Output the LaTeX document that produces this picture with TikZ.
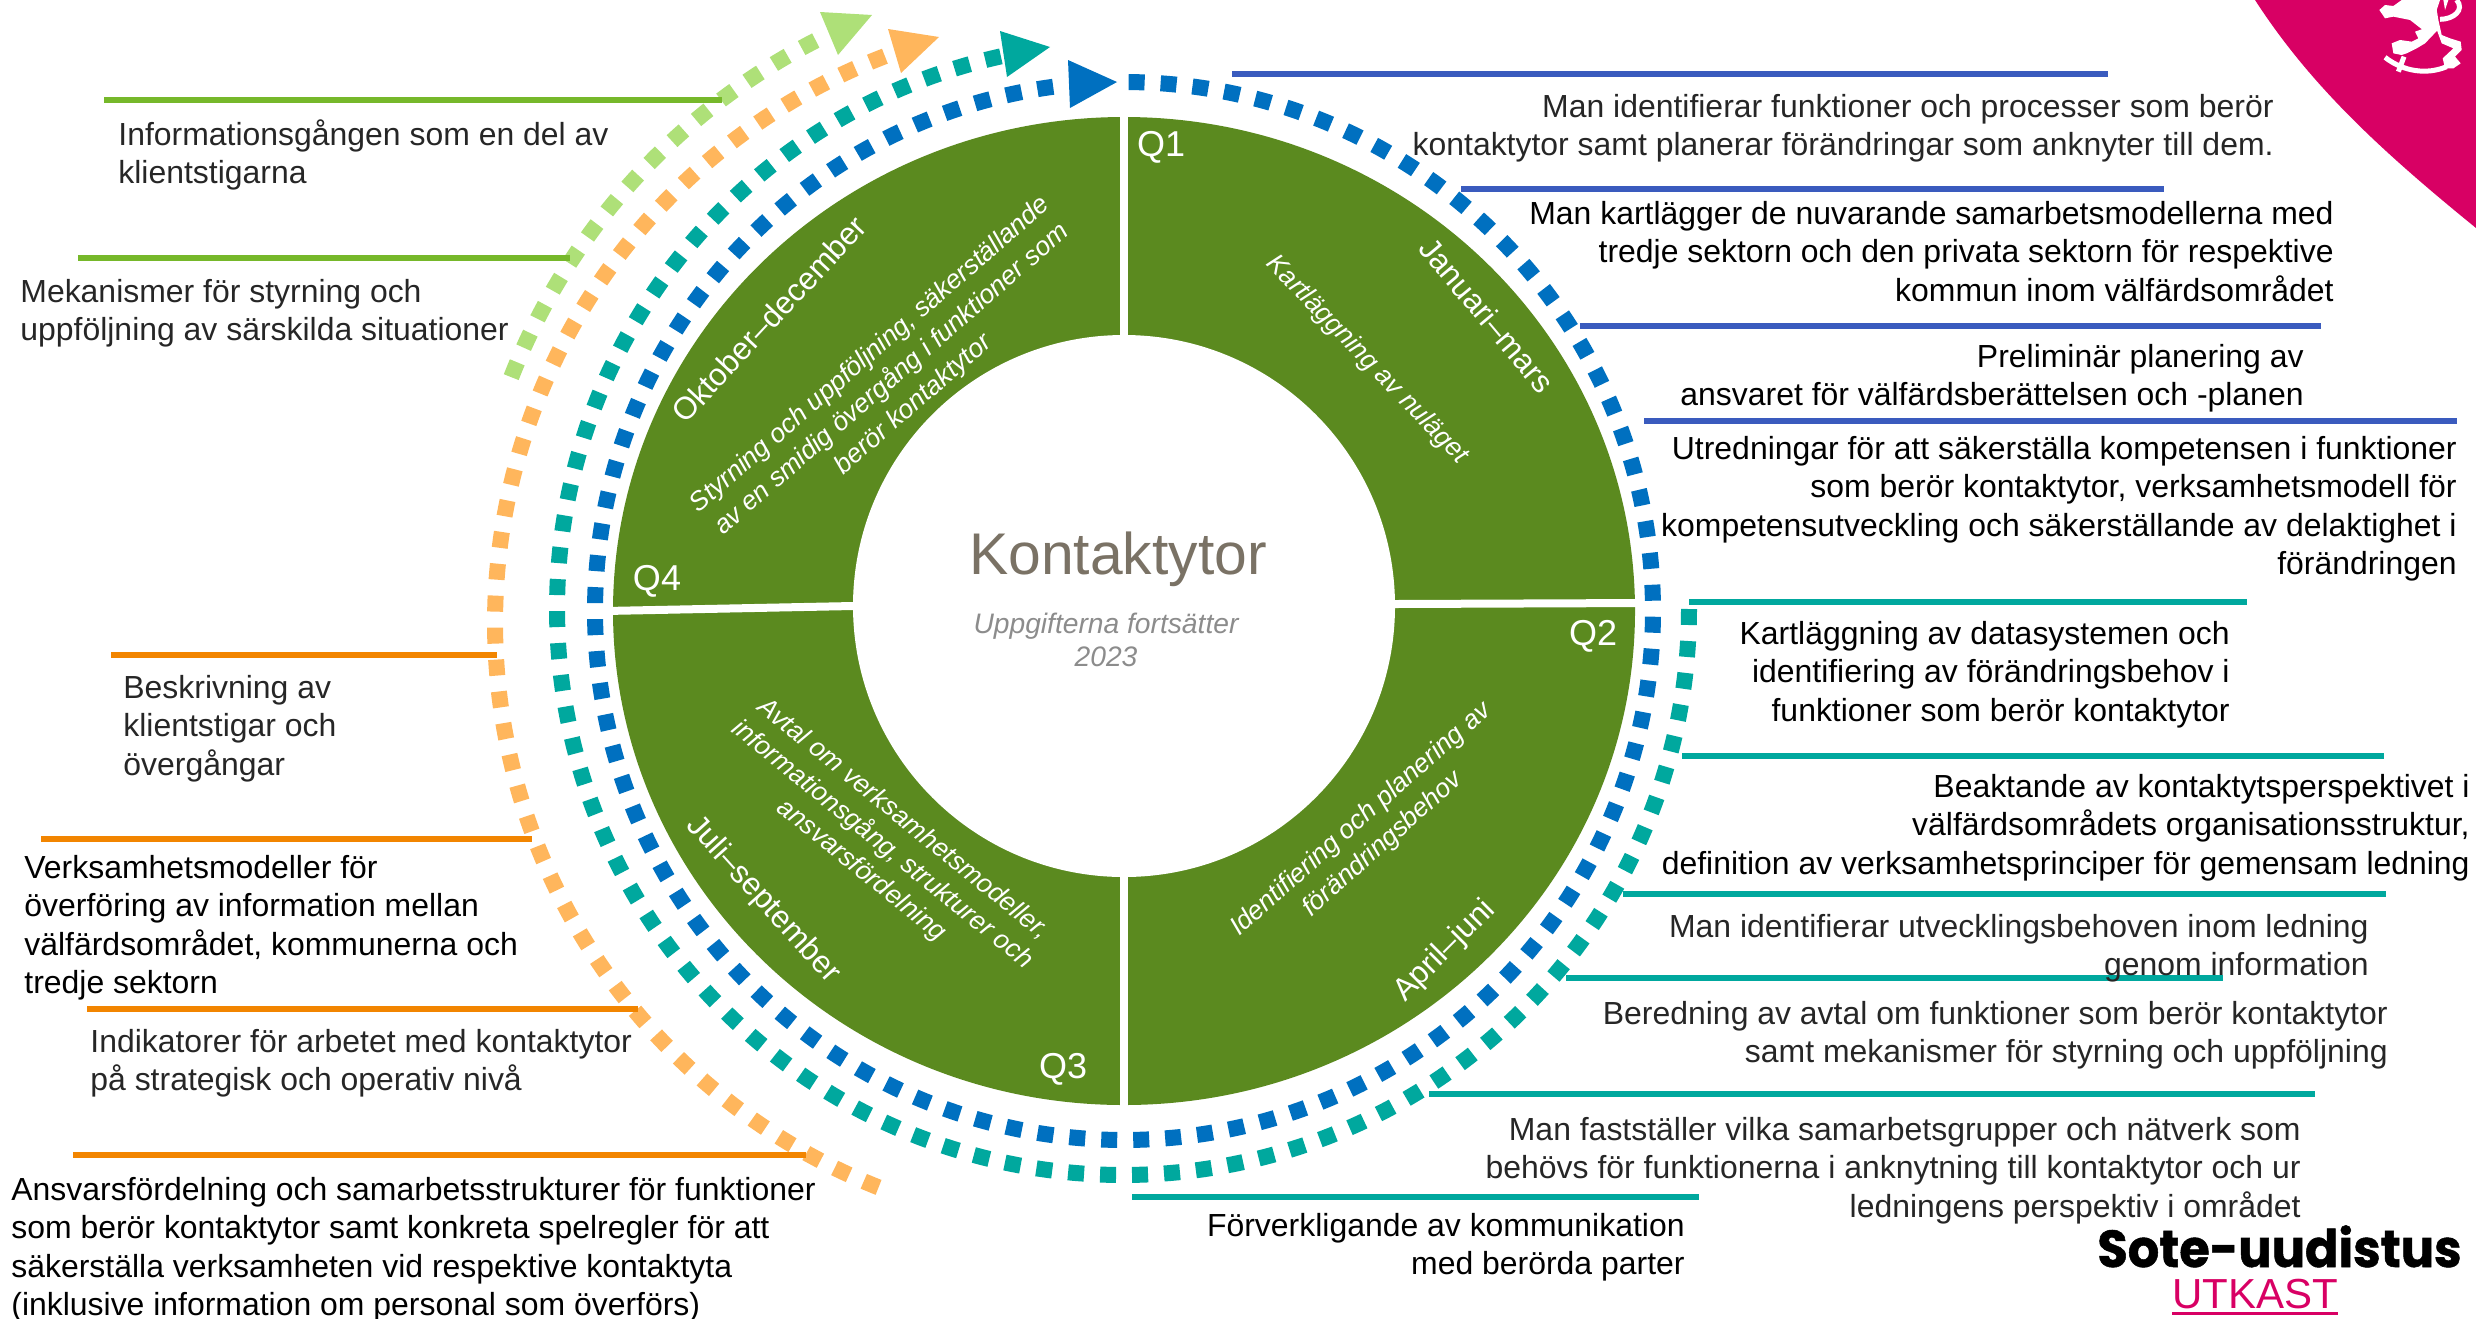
\documentclass[tikz,border=0pt]{standalone}
\usepackage{fontspec}
\setmainfont{Liberation Sans}
\newfontfamily\sotefont[FakeBold=1.0,FakeStretch=0.95]{Poppins}
\definecolor{ringgreen}{HTML}{5B8A1F}
\definecolor{dblue}{HTML}{0070C0}
\definecolor{dteal}{HTML}{00A89E}
\definecolor{dorange}{HTML}{FFB65C}
\definecolor{dlime}{HTML}{AEE078}
\definecolor{lblue}{HTML}{3A5BBE}
\definecolor{lgreen}{HTML}{76B82A}
\definecolor{lorange}{HTML}{F28500}
\definecolor{magent}{HTML}{D80064}
\definecolor{tgrey}{HTML}{262626}
\definecolor{ttitle}{HTML}{7A7265}
\definecolor{tsub}{HTML}{8C8C8C}
\tikzset{
  dotring/.style={line width=8pt,dash pattern=on 8pt off 8pt},
  rulerline/.style={line width=3pt},
  gap/.style={draw=white,line width=4pt},
  bodyfont/.style={font=\fontsize{15.97}{19.25}\selectfont,inner sep=0pt},
  tl/.style={bodyfont,anchor=north west,align=left},
  tr/.style={bodyfont,anchor=north east,align=right},
  qlabel/.style={text=white,font=\fontsize{18}{20}\selectfont,inner sep=0pt,anchor=center},
  seglabel/.style={text=white,font=\fontsize{15.7}{20}\selectfont,inner sep=0pt,anchor=center},
  segitalic/.style={text=white,font=\fontsize{13.2}{16.5}\selectfont\itshape,inner sep=0pt,anchor=center,align=center},
  lionpart/.style={fill=white,draw=none},
  lionline/.style={draw=white,line width=2.5pt}
}
\newcommand{\rulerseg}[5]{%
  \coordinate (#1-a) at (#3,#5);
  \coordinate (#1-b) at (#4,#5);
  \draw[rulerline,#2] (#1-a) -- (#1-b);}
\begin{document}
\begin{tikzpicture}[x=0.5pt,y=-0.5pt]
\useasboundingbox (0,0) rectangle (2476,1318);
% crest
\fill[magent] (2255,0) .. controls (2310,85) and (2380,150) .. (2476,228) -- (2476,0) -- cycle;
\begin{scope}[shift={(2100,0)},x=0.16667pt,y=-0.16667pt]
\fill[lionpart] (838,30)--(855,15)--(880,18)--(905,0)--(1020,0)--(1010,30)--(1015,60)--(1025,105)--(1050,115)--(1082,125)--(1085,150)--(1065,170)--(1082,190)--(1060,205)--(1035,205)--(1028,175)--(1060,145)--(1025,130)--(1005,75)--(975,95)--(930,60)--(880,50)--(855,55)--cycle;
\fill[lionpart] (945,95)--(1015,70)--(1018,85)--(975,130)--(950,145)--(920,160)--(905,165)--(880,160)--(875,130)--(900,120)--(935,125)--(955,115)--cycle;
\fill[lionpart] (1030,0)--(1045,0)--(1035,30)--cycle;
\draw[lionline] (1020,58) .. controls (1060,58) and (1095,30) .. (1070,0);
\draw[lionline] (855,172) .. controls (910,215) and (980,225) .. (1040,200);
\draw[lionline] (912,170) -- (895,215);
\end{scope}
% ring
\fill[ringgreen] (1124,611) circle[x radius=255.5pt,y radius=247pt];
\fill[white] (1124,606) circle[radius=135.5pt];
\draw[gap] (1124,110) -- (1124,1112);
\draw[gap] (605,611) -- (853,606) -- (1395,604) -- (1645,603);
% dotted rings
\draw[dotring,dlime] plot[domain=201.4:244.2,samples=120,variable=\a] ({1108+641*cos(\a)},{611+641*sin(\a)});
\draw[dotring,dorange] plot[domain=111.6:250,samples=300,variable=\a] ({1102+607*cos(\a)},{623+607*sin(\a)});
\draw[dotring,dteal] plot[domain=0:257.8,samples=400,variable=\a] ({1123+566*cos(\a)},{609+566*sin(\a)});
\draw[dotring,dblue] plot[domain=-89.5:264,samples=500,variable=\a] ({1124+529*cos(\a)},{611+529*sin(\a)});
\fill[dlime] (820,12)--(872,15)--(838,55)--cycle;
\fill[dorange] (888,29)--(939,37)--(901,73)--cycle;
\fill[dteal] (1000,31)--(1050,47)--(1007,77)--cycle;
\fill[dblue] (1068,60)--(1117,82)--(1070,108)--cycle;
% rules
\rulerseg{r1}{lblue}{1232}{2108}{74}
\rulerseg{r2}{lblue}{1461}{2164}{189}
\rulerseg{r3}{lblue}{1580}{2321}{326}
\rulerseg{r4}{lblue}{1644}{2457}{421}
\rulerseg{r5}{dteal}{1689}{2247}{602}
\rulerseg{r6}{dteal}{1682}{2384}{756}
\rulerseg{r7}{dteal}{1623}{2386}{894}
\rulerseg{r8}{dteal}{1566}{2223}{978}
\rulerseg{r9}{dteal}{1429}{2315}{1094}
\rulerseg{r10}{dteal}{1132}{1699}{1197}
\rulerseg{l1}{lgreen}{104}{722}{100}
\rulerseg{l2}{lgreen}{78}{570}{258}
\rulerseg{l3}{lorange}{111}{497}{655}
\rulerseg{l4}{lorange}{41}{532}{839}
\rulerseg{l5}{lorange}{87}{638}{1009}
\rulerseg{l6}{lorange}{73}{806}{1155}
% left texts
\node[tl,text=tgrey] (tl1) at (118,118) {\strut Informationsgången som en del av\\klientstigarna};
\node[tl,text=tgrey] (tl2) at (20,275) {\strut Mekanismer för styrning och\\uppföljning av särskilda situationer};
\node[tl,text=tgrey] (tl3) at (123,671) {\strut Beskrivning av\\klientstigar och\\övergångar};
\node[tl,text=black] (tl4) at (24,851) {\strut Verksamhetsmodeller för\\överföring av information mellan\\välfärdsområdet, kommunerna och\\tredje sektorn};
\node[tl,text=tgrey] (tl5) at (90,1025) {\strut Indikatorer för arbetet med kontaktytor\\på strategisk och operativ nivå};
\node[tl,text=black] (tl6) at (11,1173) {\strut Ansvarsfördelning och samarbetsstrukturer för funktioner\\som berör kontaktytor samt konkreta spelregler för att\\säkerställa verksamheten vid respektive kontaktyta\\(inklusive information om personal som överförs)};
% right texts
\node[tr,text=tgrey] (tr1) at (2274,90) {\strut Man identifierar funktioner och processer som berör\\kontaktytor samt planerar förändringar som anknyter till dem.};
\node[tr,text=black] (tr2) at (2334,197) {\strut Man kartlägger de nuvarande samarbetsmodellerna med\\tredje sektorn och den privata sektorn för respektive\\kommun inom välfärdsområdet};
\node[tr,text=black] (tr3) at (2304,340) {\strut Preliminär planering av\\ansvaret för välfärdsberättelsen och -planen};
\node[tr,text=black] (tr4) at (2457,432) {\strut Utredningar för att säkerställa kompetensen i funktioner\\som berör kontaktytor, verksamhetsmodell för\\kompetensutveckling och säkerställande av delaktighet i\\förändringen};
\node[tr,text=black] (tr5) at (2230,617) {\strut Kartläggning av datasystemen och\\identifiering av förändringsbehov i\\funktioner som berör kontaktytor};
\node[tr,text=black] (tr6) at (2470,770) {\strut Beaktande av kontaktytsperspektivet i\\välfärdsområdets organisationsstruktur,\\definition av verksamhetsprinciper för gemensam ledning};
\node[tr,text=tgrey] (tr7) at (2369,910) {\strut Man identifierar utvecklingsbehoven inom ledning\\genom information};
\node[tr,text=tgrey] (tr8) at (2388,997) {\strut Beredning av avtal om funktioner som berör kontaktytor\\samt mekanismer för styrning och uppföljning};
\node[tr,text=tgrey] (tr9) at (2301,1113) {\strut Man fastställer vilka samarbetsgrupper och nätverk som\\behövs för funktionerna i anknytning till kontaktytor och ur\\ledningens perspektiv i området};
\node[tr,text=black] (tr10) at (1685,1209) {\strut Förverkligande av kommunikation\\med berörda parter};
% centre
\node[text=ttitle,font=\fontsize{29.4}{32}\selectfont,inner sep=0pt] (title) at (1118,559) {Kontaktytor};
\node[text=tsub,font=\fontsize{14.1}{16.5}\selectfont\itshape,inner sep=0pt,align=center] (sub) at (1106,640) {Uppgifterna fortsätter\\2023};
% quarter labels
\node[qlabel] (q1) at (1161,147) {Q1};
\node[qlabel] (q2) at (1593,636) {Q2};
\node[qlabel] (q3) at (1063,1069) {Q3};
\node[qlabel] (q4) at (657,581) {Q4};
\node[seglabel,rotate=-50] (m1) at (1487,315) {Januari–mars};
\node[seglabel,rotate=47] (m4) at (769,319) {Oktober–december};
\node[seglabel,rotate=45] (m2) at (1445,951) {April–juni};
\node[seglabel,rotate=-48] (m3) at (763,900) {Juli–september};
\node[segitalic,rotate=-46] (s1) at (1367,360) {Kartläggning av nuläget};
\node[segitalic,rotate=41] (s4) at (892,380) {Styrning och uppföljning, säkerställande\\av en smidig övergång i funktioner som\\berör kontaktytor};
\node[segitalic,rotate=41.5] (s2) at (1372,832) {Identifiering och planering av\\förändringsbehov};
\node[segitalic,rotate=-39] (s3) at (882,845) {Avtal om verksamhetsmodeller,\\informationsgång, strukturer och\\ansvarsfördelning};
% logo
\node[font=\fontsize{26}{28}\selectfont\bfseries\sotefont,text=black,inner sep=0pt,anchor=base west] (sote) at (2097,1267) {Sote-uudistus};
\node[font=\fontsize{21}{24}\selectfont,text=magent,inner sep=0pt,anchor=base west] (utk) at (2172,1308) {UTKAST};
\coordinate (ua) at (2172,1313);
\coordinate (ub) at (2338,1313);
\draw[magent,line width=1.5pt] (ua) -- (ub);
\end{tikzpicture}
\end{document}
